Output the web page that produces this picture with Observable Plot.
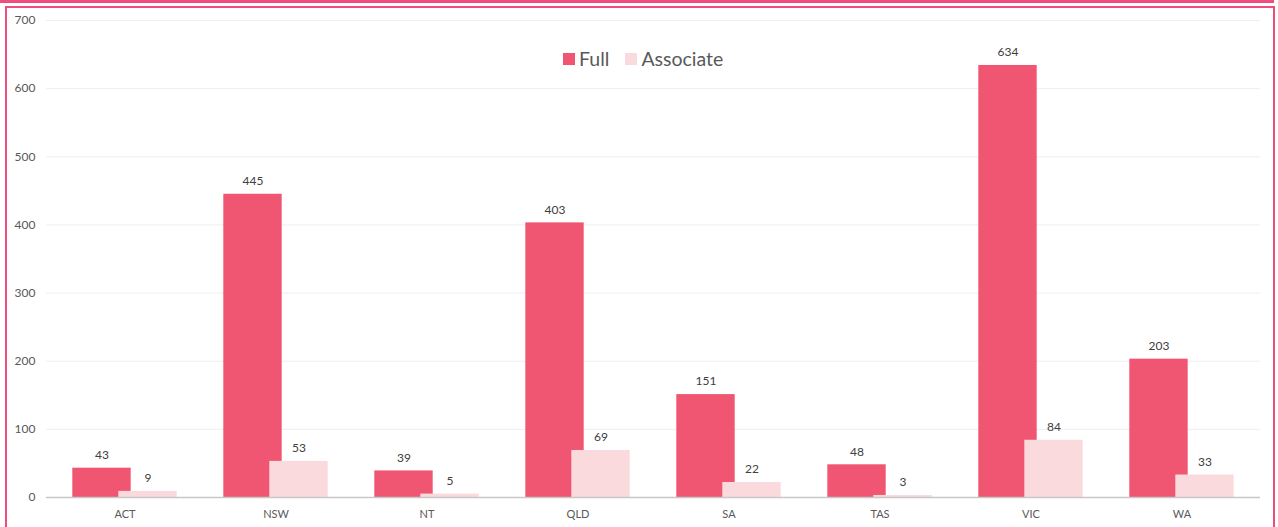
<!DOCTYPE html>
<html>
<head>
<meta charset="utf-8">
<script src="https://cdn.jsdelivr.net/npm/d3@7"></script>
<script src="https://cdn.jsdelivr.net/npm/@observablehq/plot@0.6"></script>
<style>
  html, body { margin: 0; padding: 0; background: #fff; }
  body { width: 1278px; height: 527px; position: relative; overflow: hidden; font-family: Lato, "Open Sans", sans-serif; }
  #chart { position: absolute; left: 0; top: 0; }
  .topband { position: absolute; left: 0; top: 0; width: 1274px; height: 3px; background: #EE4D7E; }
  .frame { position: absolute; left: 5px; top: 6px; width: 1266px; height: 540px; border: 2px solid #EE4D7E; pointer-events: none; }
  .legend { position: absolute; top: 47px; left: 563px; display: flex; align-items: center; font-size: 19.5px; color: #595959; white-space: nowrap; }
  .legend .sw { display: inline-block; width: 12px; height: 12px; margin-right: 4px; }
  .legend .item { display: flex; align-items: center; margin-right: 16px; }
</style>
</head>
<body>
<div class="topband"></div>
<div id="chart"></div>
<div class="frame"></div>
<div class="legend">
  <span class="item"><span class="sw" style="background:#F05672"></span>Full</span>
  <span class="item"><span class="sw" style="background:#FBDADD"></span>Associate</span>
</div>
<script>
const states = ["ACT", "NSW", "NT", "QLD", "SA", "TAS", "VIC", "WA"];
const fullValues = [43, 445, 39, 403, 151, 48, 634, 203];
const associateValues = [9, 53, 5, 69, 22, 3, 84, 33];
const yTicks = [0, 100, 200, 300, 400, 500, 600, 700];
const seriesNames = ["Full", "Associate"];
const seriesColors = ["#F05672", "#FBDADD"];

const fullData = states.map((s, i) => ({state: s, value: fullValues[i], series: seriesNames[0]}));
const assocData = states.map((s, i) => ({state: s, value: associateValues[i], series: seriesNames[1]}));

const inset = 46.3;
const off = 23;

const chart = Plot.plot({
  width: 1278,
  height: 527,
  marginLeft: 46,
  marginRight: 18,
  marginTop: 20,
  marginBottom: 30,
  style: {fontFamily: "Lato, 'Open Sans', sans-serif", background: "transparent", color: "#595959"},
  x: {domain: states, padding: 0, label: null},
  y: {domain: [0, 700], label: null},
  color: {domain: seriesNames, range: seriesColors},
  marks: [
    Plot.ruleY(yTicks.filter(d => d > 0), {stroke: "#EEEEEE", strokeWidth: 1}),
    Plot.axisY({ticks: yTicks, tickSize: 0, tickPadding: 11, fontSize: 12, fill: "#595959", label: null}),
    Plot.axisX({tickSize: 0, tickPadding: 13, fontSize: 11, fill: "#595959", label: null}),
    Plot.barY(fullData, {x: "state", y: "value", fill: "series", insetLeft: inset, insetRight: inset, dx: -off}),
    Plot.barY(assocData, {x: "state", y: "value", fill: "series", insetLeft: inset, insetRight: inset, dx: off}),
    Plot.ruleY([0], {stroke: "#C8C8C8", strokeWidth: 1.5}),
    Plot.text(fullData, {x: "state", y: "value", text: d => String(d.value), dx: -off, dy: -13, fontSize: 12, fill: "#404040"}),
    Plot.text(assocData, {x: "state", y: "value", text: d => String(d.value), dx: off, dy: -13, fontSize: 12, fill: "#404040"})
  ]
});
document.getElementById("chart").appendChild(chart);
</script>
</body>
</html>
